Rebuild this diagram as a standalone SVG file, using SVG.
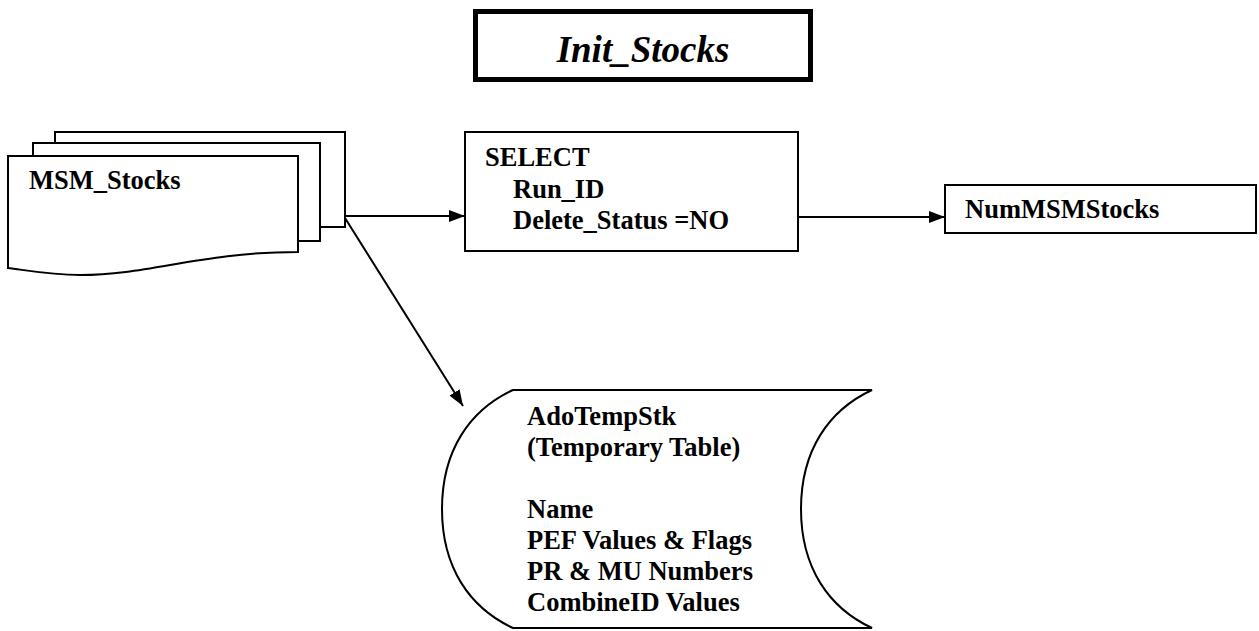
<svg xmlns="http://www.w3.org/2000/svg" width="1259" height="631" viewBox="0 0 1259 631">
  <style>
    .shape { fill: #ffffff; stroke: #000000; stroke-width: 2; }
    .label { font-family: "Liberation Serif", "Times New Roman", serif; font-weight: bold; font-size: 26.5px; fill: #000000; }
    .title { font-family: "Liberation Serif", "Times New Roman", serif; font-weight: bold; font-style: italic; font-size: 37px; fill: #000000; }
    .conn { fill: none; stroke: #000000; stroke-width: 2; }
  </style>
  <defs>
    <marker id="arrow" viewBox="0 0 16 12" refX="16" refY="6" markerWidth="16" markerHeight="12" markerUnits="userSpaceOnUse" orient="auto">
      <path d="M0,0 L16,6 L0,12 Z" fill="#000000"/>
    </marker>
  </defs>
  <rect width="1259" height="631" fill="#ffffff"/>

  <!-- title banner -->
  <g id="title">
    <rect x="475.5" y="11.5" width="335" height="68" fill="#ffffff" stroke="#000000" stroke-width="5"/>
    <text class="title" x="643" y="62" text-anchor="middle">Init_Stocks</text>
  </g>

  <!-- stacked document source -->
  <g id="msm-stocks">
    <path class="shape" d="M55,143 V132 H345 V227 H320"/>
    <path class="shape" d="M33,156 V143 H320 V241 H298"/>
    <path class="shape" d="M8,156 H298 V252 C200,252 150,275 80,275 C50,275 25,270 8,268 Z"/>
    <text class="label" x="29" y="189">MSM_Stocks</text>
  </g>

  <!-- query process -->
  <g id="select">
    <rect class="shape" x="465" y="132" width="333" height="119"/>
    <text class="label" x="485" y="166">SELECT</text>
    <text class="label" x="513" y="198">Run_ID</text>
    <text class="label" x="513" y="229">Delete_Status =NO</text>
  </g>

  <!-- result count -->
  <g id="num-msm-stocks">
    <rect class="shape" x="945" y="185" width="311" height="48"/>
    <text class="label" x="965" y="218">NumMSMStocks</text>
  </g>

  <!-- stored temporary table -->
  <g id="ado-temp-stk">
    <path class="shape" d="M513,390 H872 C829,410 801,450 801,509 C801,568 829,608 872,628 H513 C470,608 442,568 442,509 C442,450 470,410 513,390 Z"/>
    <text class="label" x="527" y="425">AdoTempStk</text>
    <text class="label" x="527" y="456">(Temporary Table)</text>
    <text class="label" x="527" y="518">Name</text>
    <text class="label" x="527" y="549">PEF Values &amp; Flags</text>
    <text class="label" x="527" y="580">PR &amp; MU Numbers</text>
    <text class="label" x="527" y="611">CombineID Values</text>
  </g>

  <!-- connectors -->
  <g id="connectors">
    <line class="conn" x1="345" y1="216" x2="465" y2="216" marker-end="url(#arrow)"/>
    <line class="conn" x1="798" y1="217" x2="945" y2="217" marker-end="url(#arrow)"/>
    <line class="conn" x1="345" y1="218" x2="463" y2="406" marker-end="url(#arrow)"/>
  </g>
</svg>
